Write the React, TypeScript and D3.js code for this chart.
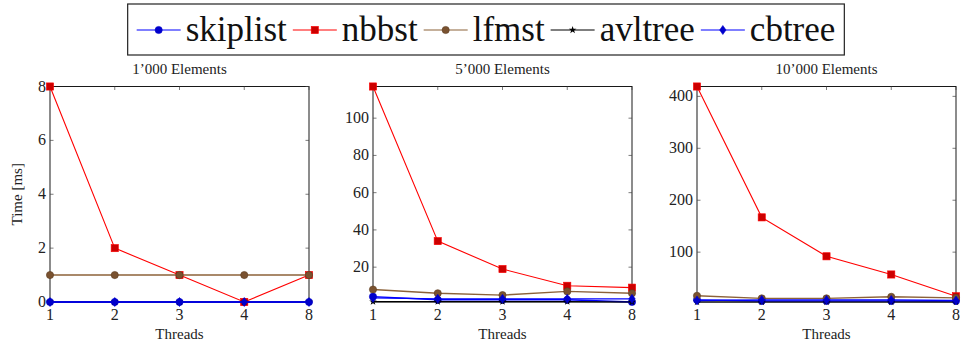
import React, { useEffect, useRef } from 'react';
import * as d3 from 'd3';

// thread counts (symbolic x coords)
const threads = ['1', '2', '3', '4', '8'];

const seriesNames = ['skiplist', 'nbbst', 'lfmst', 'avltree', 'cbtree'];

// 1'000 elements
const skiplist1k = [0, 0, 0, 0, 0];
const nbbst1k = [8, 2, 1, 0, 1];
const lfmst1k = [1, 1, 1, 1, 1];
const avltree1k = [0, 0, 0, 0, 0];
const cbtree1k = [0, 0, 0, 0, 0];

// 5'000 elements
const skiplist5k = [4.2, 2.5, 2.5, 2.5, 1.3];
const nbbst5k = [117, 34, 19, 10, 9];
const lfmst5k = [8, 6, 5, 7, 6];
const avltree5k = [1.5, 1.5, 1.5, 1.5, 1.3];
const cbtree5k = [3.5, 3, 3, 3, 3];

// 10'000 elements
const skiplist10k = [8, 6, 6, 6, 6];
const nbbst10k = [419, 167, 92, 57, 15];
const lfmst10k = [16, 11, 11, 14, 12];
const avltree10k = [4, 4, 4, 4, 4];
const cbtree10k = [7, 8, 8, 8, 7];

const panelTitles = ["1\u2019000 Elements", "5\u2019000 Elements", "10\u2019000 Elements"];

const styles = {
  skiplist: { line: '#0000ff', fill: '#0000cc', stroke: '#0000cc', mark: 'circle', lw: 1.4 },
  nbbst: { line: '#ff0000', fill: '#cc0000', stroke: '#ff0000', mark: 'square', lw: 1.1 },
  lfmst: { line: '#8c6239', fill: '#7a5230', stroke: '#5c3d20', mark: 'circle', lw: 1.4 },
  avltree: { line: '#000000', fill: '#000000', stroke: '#000000', mark: 'star', lw: 1.1 },
  cbtree: { line: '#0000ff', fill: '#0000cc', stroke: '#0000cc', mark: 'diamond', lw: 1.4 },
};

const FONT = "'Liberation Serif', 'Times New Roman', serif";

function drawMark(g, kind, x, y, st) {
  if (kind === 'circle') {
    g.append('circle').attr('cx', x).attr('cy', y).attr('r', 3.6)
      .attr('fill', st.fill).attr('stroke', st.stroke).attr('stroke-width', 0.6);
  } else if (kind === 'square') {
    g.append('rect').attr('x', x - 3.6).attr('y', y - 3.6).attr('width', 7.2).attr('height', 7.2)
      .attr('fill', st.fill).attr('stroke', st.stroke).attr('stroke-width', 0.6);
  } else if (kind === 'diamond') {
    g.append('path').attr('d', `M${x},${y - 4.5}L${x + 3.2},${y}L${x},${y + 4.5}L${x - 3.2},${y}Z`)
      .attr('fill', st.fill).attr('stroke', st.stroke).attr('stroke-width', 0.6);
  } else {
    g.append('path').attr('d', d3.symbol(d3.symbolStar, 18)()).attr('transform', `translate(${x},${y})`)
      .attr('fill', st.fill);
  }
}

export default function App() {
  const svgRef = useRef(null);

  useEffect(() => {
    const svg = d3.select(svgRef.current);
    svg.selectAll('*').remove();

    const panels = [
      { title: panelTitles[0], data: [skiplist1k, nbbst1k, lfmst1k, avltree1k, cbtree1k], left: 50 },
      { title: panelTitles[1], data: [skiplist5k, nbbst5k, lfmst5k, avltree5k, cbtree5k], left: 373 },
      { title: panelTitles[2], data: [skiplist10k, nbbst10k, lfmst10k, avltree10k, cbtree10k], left: 697 },
    ];
    const pw = 259;
    const top = 86.5;
    const bottom = 302;

    const txt = (sel) => sel.style('font-family', FONT).attr('fill', '#222');

    panels.forEach((p, pi) => {
      const g = svg.append('g');
      const x = d3.scalePoint().domain(threads).range([p.left, p.left + pw]).padding(0);
      const ext = d3.extent(p.data.flat());
      const y = d3.scaleLinear().domain(ext).range([bottom, top]);

      // plot frame
      g.append('rect').attr('x', p.left).attr('y', top).attr('width', pw).attr('height', bottom - top)
        .attr('fill', 'none').attr('stroke', '#000').attr('stroke-width', 0.9);

      const tl = 3.5;
      // x ticks (bottom and mirrored top)
      threads.forEach(t => {
        g.append('line').attr('x1', x(t)).attr('x2', x(t)).attr('y1', bottom).attr('y2', bottom - tl)
          .attr('stroke', '#444').attr('stroke-width', 0.7);
        g.append('line').attr('x1', x(t)).attr('x2', x(t)).attr('y1', top).attr('y2', top + tl)
          .attr('stroke', '#444').attr('stroke-width', 0.7);
        txt(g.append('text')).attr('x', x(t)).attr('y', bottom + 18).attr('text-anchor', 'middle')
          .style('font-size', '16px').text(t);
      });

      // y ticks
      const yt = y.ticks(5).filter(v => v >= ext[0] && v <= ext[1]);
      yt.forEach(v => {
        g.append('line').attr('x1', p.left).attr('x2', p.left + tl).attr('y1', y(v)).attr('y2', y(v))
          .attr('stroke', '#444').attr('stroke-width', 0.7);
        g.append('line').attr('x1', p.left + pw).attr('x2', p.left + pw - tl).attr('y1', y(v)).attr('y2', y(v))
          .attr('stroke', '#444').attr('stroke-width', 0.7);
        txt(g.append('text')).attr('x', p.left - 4).attr('y', y(v) + 5).attr('text-anchor', 'end')
          .style('font-size', '16px').text(v);
      });

      // title and axis labels
      txt(g.append('text')).attr('x', p.left + pw / 2).attr('y', 74).attr('text-anchor', 'middle')
        .style('font-size', '15px').text(p.title);
      txt(g.append('text')).attr('x', p.left + pw / 2).attr('y', 339).attr('text-anchor', 'middle')
        .style('font-size', '15px').text('Threads');
      if (pi === 0) {
        txt(g.append('text')).attr('transform', `translate(22,${(top + bottom) / 2}) rotate(-90)`)
          .attr('text-anchor', 'middle').style('font-size', '15px').text('Time [ms]');
      }

      // series
      p.data.forEach((vals, si) => {
        const st = styles[seriesNames[si]];
        const line = d3.line<number>().x((d, i) => x(threads[i])).y(d => y(d));
        const sg = g.append('g');
        sg.append('path').attr('d', line(vals)).attr('fill', 'none')
          .attr('stroke', st.line).attr('stroke-width', st.lw);
        vals.forEach((v, i) => drawMark(sg, st.mark, x(threads[i]), y(v), st));
      });
    });

    // legend
    const lg = svg.append('g');
    const box = lg.append('rect').attr('y', 4).attr('height', 51)
      .attr('fill', '#fff').attr('stroke', '#222').attr('stroke-width', 1.2);
    let cx = 0;
    const items = lg.append('g');
    seriesNames.forEach(name => {
      const st = styles[name];
      const ig = items.append('g');
      ig.append('line').attr('x1', cx).attr('x2', cx + 44).attr('y1', 30).attr('y2', 30)
        .attr('stroke', st.line).attr('stroke-width', 1.2);
      drawMark(ig, st.mark, cx + 22, 30, st);
      const t = ig.append('text').attr('x', cx + 49).attr('y', 41)
        .style('font-family', FONT).style('font-size', '35px').attr('fill', '#111').text(name);
      const w = (t.node() as SVGTextElement).getComputedTextLength();
      cx += 49 + w + 6;
    });
    const totalW = cx - 6;
    const startX = 486 - totalW / 2;
    items.attr('transform', `translate(${startX},0)`);
    box.attr('x', startX - 9).attr('width', totalW + 18);
  }, []);

  return (
    <svg ref={svgRef} width={962} height={345} style={{ position: 'absolute', left: 0, top: 0 }} />
  );
}
